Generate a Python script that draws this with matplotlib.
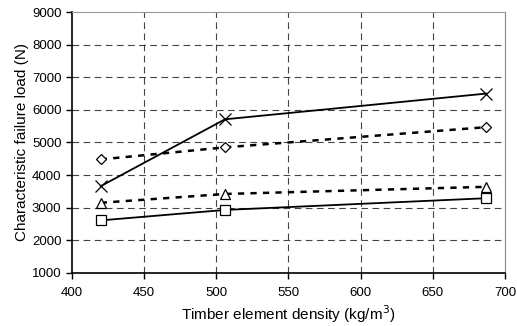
import matplotlib
matplotlib.use("Agg")
import matplotlib.pyplot as plt

# --- data ---
density = [420, 506, 687]
load_x = [3660, 5710, 6500]
load_diamond = [4480, 4850, 5470]
load_triangle = [3150, 3420, 3640]
load_square = [2610, 2930, 3290]

plt.rcParams['font.family'] = ['Liberation Sans', 'DejaVu Sans']
plt.rcParams['font.size'] = 9.5

fig = plt.figure(figsize=(5.17, 3.26), dpi=100)
ax = fig.add_axes([0.139, 0.163, 0.838, 0.8])

grid_kw = dict(color='#444444', linestyle=(0, (6, 4)), linewidth=0.8)
for xv in [450, 500, 550, 600, 650]:
    ax.axvline(xv, zorder=0, **grid_kw)
for yv in range(2000, 9000, 1000):
    ax.axhline(yv, zorder=0, **grid_kw)

mk = dict(color='black', markerfacecolor='white', markeredgecolor='black', markeredgewidth=0.9)
ax.plot(density, load_x, marker='x', markersize=8, linestyle='-', linewidth=1.3, **mk)
ax.plot(density, load_diamond, marker='D', markersize=5.5, linestyle=(0, (2.5, 2.5)), linewidth=1.8, **mk)
ax.plot(density, load_triangle, marker='^', markersize=7, linestyle=(0, (2.5, 2.5)), linewidth=1.8, **mk)
ax.plot(density, load_square, marker='s', markersize=7, linestyle='-', linewidth=1.3, **mk)

ax.set_xlim(400, 700)
ax.set_ylim(1000, 9000)
ax.set_xticks(range(400, 701, 50))
ax.set_yticks(range(1000, 9001, 1000))
ax.spines['top'].set_color('#999999')
ax.spines['right'].set_color('#888888')
ax.spines['left'].set_linewidth(1.2)
ax.spines['bottom'].set_linewidth(1.2)
ax.tick_params(direction='out', length=4, width=1)
ax.tick_params(axis='x', pad=6)

ax.set_xlabel('Timber element density (kg/m$^3$)', fontsize=11, labelpad=3)
ax.set_ylabel('Characteristic failure load (N)', fontsize=11, labelpad=2)

fig.savefig('out.png', dpi=100)
